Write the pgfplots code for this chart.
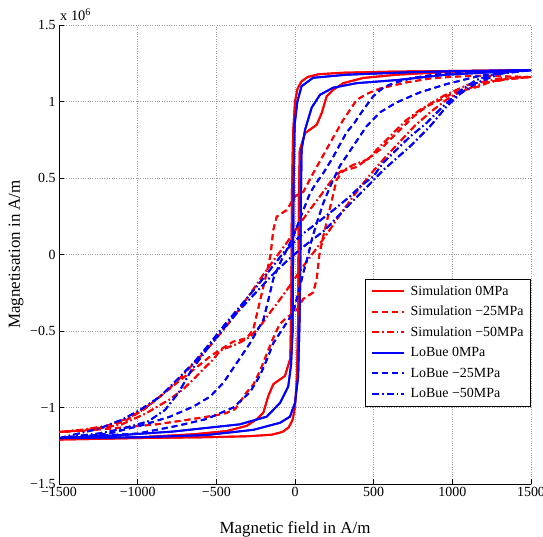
\documentclass[border=0pt]{standalone}
\usepackage{fontspec}
\setmainfont{Liberation Serif}
\usepackage{pgfplots}
\usepackage{pgfplotstable}
\pgfplotsset{compat=1.18}
\definecolor{mred}{RGB}{255,0,0}
\definecolor{mblue}{RGB}{0,0,255}
\tikzset{
  simline/.style={draw=mred, line width=1.9bp},
  lobline/.style={draw=mblue, line width=1.9bp},
  dashedM/.style={dash pattern=on 6bp off 4bp},
  dashdotM/.style={dash pattern=on 7bp off 3bp on 1.5bp off 3bp},
}
\pgfplotstableread{
x y
1500 1.205
1000 1.2
600 1.195
300 1.188
150 1.178
80 1.16
40 1.13
15 1.08
0 1.0
-12 0.8
-20 0.4
-22 0
-25 -0.4
-30 -0.68
-42 -0.72
-64 -0.794
-95 -0.816
-138 -0.848
-170 -0.925
-201 -1.033
-244 -1.077
-307 -1.12
-434 -1.154
-646 -1.175
-1000 -1.195
-1500 -1.21
-1000 -1.2
-600 -1.195
-300 -1.188
-150 -1.178
-80 -1.16
-40 -1.13
-15 -1.08
0 -1.0
12 -0.8
20 -0.4
22 0
25 0.4
30 0.68
42 0.72
64 0.794
95 0.816
138 0.848
170 0.925
201 1.033
244 1.077
307 1.12
434 1.154
646 1.175
1000 1.195
1500 1.205
}\simzero
\pgfplotstableread{
x y
1500 1.16
1176 1.168
1006 1.162
858 1.15
710 1.125
604 1.10
540 1.085
456 1.05
392 1.01
307 0.88
222 0.727
116 0.532
53 0.41
0 0.38
-53 0.29
-116 0.248
-138 0.16
-155 0.0
-180 -0.12
-210 -0.25
-240 -0.38
-265 -0.49
-307 -0.547
-392 -0.569
-477 -0.623
-540 -0.667
-646 -0.754
-752 -0.84
-858 -0.929
-964 -1.016
-1070 -1.081
-1176 -1.125
-1314 -1.145
-1500 -1.16
-1197 -1.14
-879 -1.11
-668 -1.078
-498 -1.05
-434 -1.035
-380 -1.01
-307 -0.90
-265 -0.85
-222 -0.76
-180 -0.65
-140 -0.55
-100 -0.46
-53 -0.41
0 -0.38
53 -0.29
116 -0.248
138 -0.16
155 0.0
180 0.12
210 0.25
240 0.38
265 0.49
307 0.547
392 0.572
456 0.62
540 0.685
604 0.75
668 0.816
752 0.90
837 0.968
922 1.01
1006 1.056
1176 1.10
1240 1.13
1389 1.154
1500 1.16
}\simtwentyfive
\pgfplotstableread{
x y
1500 1.16
1300 1.15
1100 1.11
950 1.04
795 0.946
710 0.88
646 0.816
583 0.75
519 0.685
477 0.63
434 0.61
371 0.586
286 0.54
222 0.47
159 0.38
100 0.30
30 0.2
-50 0.08
-130 -0.03
-200 -0.13
-280 -0.25
-370 -0.38
-460 -0.50
-560 -0.62
-660 -0.73
-760 -0.84
-860 -0.93
-960 -1.01
-1060 -1.07
-1200 -1.12
-1350 -1.145
-1500 -1.16
-1300 -1.15
-1100 -1.11
-950 -1.04
-795 -0.946
-710 -0.88
-646 -0.816
-583 -0.75
-519 -0.685
-477 -0.63
-434 -0.61
-371 -0.586
-286 -0.54
-222 -0.47
-159 -0.38
-100 -0.30
-30 -0.2
50 -0.08
130 0.03
200 0.13
280 0.25
370 0.38
460 0.50
560 0.62
660 0.73
760 0.84
860 0.93
960 1.01
1060 1.07
1200 1.12
1350 1.145
1500 1.16
}\simfifty
\pgfplotstableread{
x y
1500 1.205
1000 1.198
700 1.19
329 1.175
115 1.155
42 1.10
15 1.0
-2 0.85
-8 0.5
-12 0
-15 -0.5
-25 -0.72
-43 -0.863
-95 -0.97
-180 -1.06
-350 -1.11
-774 -1.157
-1100 -1.18
-1500 -1.2
-1000 -1.195
-561 -1.18
-265 -1.146
-95 -1.10
-32 -1.06
0 -0.97
20 -0.8
30 -0.4
35 0
38 0.4
42 0.685
64 0.816
106 0.96
159 1.044
242 1.09
392 1.12
646 1.14
964 1.175
1500 1.205
}\lobzero
\pgfplotstableread{
x y
1500 1.205
1100 1.19
900 1.178
752 1.155
625 1.12
560 1.09
498 1.035
434 0.946
371 0.85
329 0.80
286 0.72
244 0.64
180 0.532
130 0.46
95 0.40
53 0.29
21 0.205
-11 0.118
-53 0.03
-95 -0.056
-138 -0.16
-170 -0.30
-201 -0.427
-286 -0.58
-371 -0.71
-456 -0.84
-540 -0.929
-646 -0.994
-795 -1.06
-964 -1.114
-1176 -1.168
-1350 -1.19
-1500 -1.2
-1000 -1.17
-750 -1.12
-561 -1.075
-392 -1.0
-286 -0.90
-222 -0.79
-180 -0.69
-138 -0.58
-75 -0.48
-11 -0.38
21 -0.25
53 -0.12
85 0
106 0.096
138 0.205
180 0.336
230 0.46
286 0.58
371 0.71
456 0.84
540 0.929
646 0.994
795 1.06
964 1.114
1176 1.168
1350 1.19
1500 1.205
}\lobtwentyfive
\pgfplotstableread{
x y
1500 1.205
1300 1.19
1150 1.14
1050 1.07
943 0.97
837 0.86
731 0.77
646 0.685
561 0.60
498 0.51
420 0.45
350 0.38
244 0.29
138 0.205
32 0.12
-74 0.01
-159 -0.10
-244 -0.21
-350 -0.34
-456 -0.47
-540 -0.58
-646 -0.71
-752 -0.82
-858 -0.929
-985 -1.016
-1100 -1.08
-1250 -1.14
-1500 -1.2
-1250 -1.17
-1100 -1.14
-932 -1.09
-826 -1.016
-742 -0.906
-657 -0.754
-560 -0.62
-450 -0.48
-350 -0.36
-250 -0.25
-150 -0.14
-50 -0.04
40 0.04
190 0.16
320 0.30
445 0.43
570 0.56
731 0.706
858 0.837
964 0.968
1050 1.05
1150 1.12
1300 1.18
1500 1.205
}\lobfifty
\begin{document}
\begin{tikzpicture}
\begin{axis}[
  at={(0,0)}, anchor=south west,
  width=472bp, height=459bp, scale only axis,
  xmin=-1500, xmax=1500, ymin=-1.5, ymax=1.5,
  axis x line*=bottom, axis y line*=left,
  axis line style={-, line width=1bp},
  xtick={-1500,-1000,-500,0,500,1000,1500},
  xticklabels={−1500,−1000,−500,0,500,1000,1500},
  ytick={-1.5,-1,-0.5,0,0.5,1,1.5},
  yticklabels={−1.5,−1,−0.5,0,0.5,1,1.5},
  tick align=inside, major tick length=5bp,
  tick style={line width=0.8bp, black},
  grid=major, major grid style={dotted, gray!75, line width=0.8bp},
  tick label style={font=\fontsize{14}{16}\selectfont},
  xlabel={Magnetic field in A/m}, ylabel={Magnetisation in A/m},
  label style={font=\fontsize{17}{20}\selectfont},
  x label style={at={(axis description cs:0.5,0)}, anchor=base, yshift=-49bp},
  y label style={at={(axis description cs:-0.083,0.5)}, anchor=base},
  legend style={at={(1,0.4466)}, anchor=north east, draw=black, line width=1bp,
    fill=white, font=\fontsize{14}{16}\selectfont, inner xsep=6bp, inner ysep=4.5bp,
    row sep=5.5bp, column sep=4bp,
    nodes={inner sep=1bp, text height=10bp, text depth=3bp}},
  legend cell align=left,
  legend image code/.code={%
    \draw[#1, line width=2.3bp] (0bp,0.25bp) -- (32bp,0.25bp);},
]
\addplot[simline, solid, forget plot] table {\simzero};
\addplot[simline, solid] table {\simzero};
\addlegendentry{Simulation 0MPa}
\addplot[simline, dashedM, forget plot] table {\simtwentyfive};
\addplot[simline, dashedM] table {\simtwentyfive};
\addlegendentry{Simulation −25MPa}
\addplot[simline, dashdotM, forget plot] table {\simfifty};
\addplot[simline, dashdotM] table {\simfifty};
\addlegendentry{Simulation −50MPa}
\addplot[lobline, solid, forget plot] table {\lobzero};
\addplot[lobline, solid] table {\lobzero};
\addlegendentry{LoBue 0MPa}
\addplot[lobline, dashedM, forget plot] table {\lobtwentyfive};
\addplot[lobline, dashedM] table {\lobtwentyfive};
\addlegendentry{LoBue −25MPa}
\addplot[lobline, dashdotM, forget plot] table {\lobfifty};
\addplot[lobline, dashdotM] table {\lobfifty};
\addlegendentry{LoBue −50MPa}
\end{axis}
\node[anchor=base west, font=\fontsize{14.5}{16}\selectfont, inner sep=0pt] at (1bp,463bp) {x 10\textsuperscript{6}};
\pgfresetboundingbox
\path[use as bounding box] (-59bp,-53bp) rectangle (484bp,484bp);
\end{tikzpicture}
\end{document}
